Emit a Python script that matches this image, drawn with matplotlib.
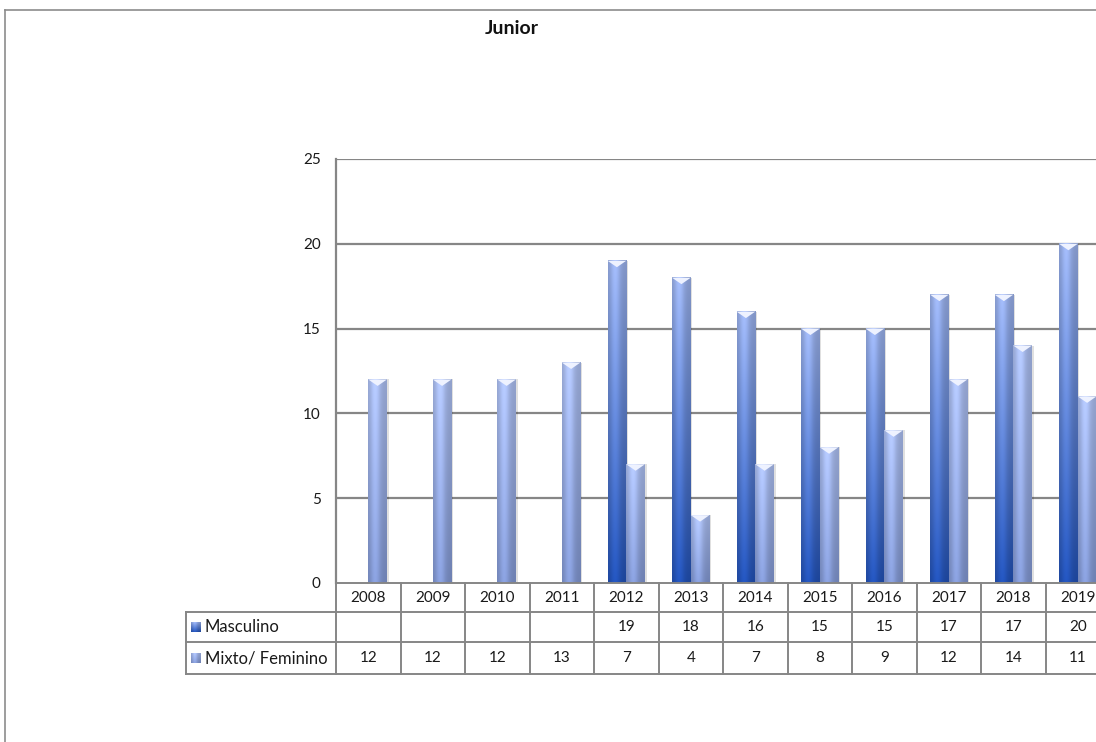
import matplotlib
matplotlib.use("Agg")
import matplotlib.pyplot as plt
import numpy as np
from matplotlib.patches import Polygon, Rectangle
from matplotlib.lines import Line2D

years = ["2008", "2009", "2010", "2011", "2012", "2013", "2014", "2015", "2016", "2017", "2018", "2019"]
masculino = [None, None, None, None, 19, 18, 16, 15, 15, 17, 17, 20]
mixto = [12, 12, 12, 13, 7, 4, 7, 8, 9, 12, 14, 11]
series_names = ["Masculino", "Mixto/ Feminino"]
title = "Junior"
yticks = [0, 5, 10, 15, 20, 25]

plt.rcParams['font.family'] = ['Lato', 'DejaVu Sans']

W, H = 1096, 742
fig = plt.figure(figsize=(W / 100, H / 100), dpi=100)

def fx(px):
    return px / W

def fy(py):
    return 1 - py / H

ax_left, ax_right, ax_top, ax_bot = 336, 1110, 159, 583
ax = fig.add_axes([fx(ax_left), fy(ax_bot), fx(ax_right - ax_left), fy(ax_top) - fy(ax_bot)])
ax.set_xlim(-0.5, len(years) - 0.5)
ax.set_ylim(0, 25)

grid_c = "#868686"
for t in yticks[1:]:
    ax.axhline(t, color=grid_c, lw=1.6, zorder=1)
for s in ["top", "right", "bottom"]:
    ax.spines[s].set_visible(False)
ax.spines["left"].set_color(grid_c)
ax.spines["left"].set_linewidth(1.6)
ax.set_xticks([])
ax.set_yticks(yticks)
ax.tick_params(axis="y", length=0, pad=11, labelsize=11, labelcolor="#1a1a1a")


def make_grad(bottom, top, n=64, m=24):
    b = np.array(matplotlib.colors.to_rgb(bottom))
    t = np.array(matplotlib.colors.to_rgb(top))
    v = np.linspace(0, 1, n)[:, None, None]
    img = b + (t - b) * v
    u = np.linspace(0, 1, m)
    shade = 0.80 + 0.22 * np.exp(-((u - 0.38) / 0.28) ** 2)
    img = img * shade[None, :, None]
    return np.clip(img, 0, 1)

grad_m = make_grad("#2456c0", "#a3bbf8")
grad_f = make_grad("#8aa1df", "#b6caff")

bw = 0.29
off = 0.145
tri_h = 0.38

def draw_bar(xc, h, grad):
    x0, x1 = xc - bw / 2, xc + bw / 2
    ax.add_patch(Rectangle((x1, 0), 0.025, h, color="#000000", alpha=0.12, lw=0, zorder=2))
    ax.imshow(grad, extent=[x0, x1, 0, h], origin="lower", aspect="auto",
              interpolation="bilinear", zorder=3)
    ax.add_patch(Polygon([[x0, h], [x1, h], [xc, h - tri_h]], closed=True,
                         color="#eef2ff", lw=0, zorder=4))

for i, (m, f) in enumerate(zip(masculino, mixto)):
    if m is not None:
        draw_bar(i - off, m, grad_m)
    if f is not None:
        draw_bar(i + off, f, grad_f)

ax.set_xlim(-0.5, len(years) - 0.5)
ax.set_ylim(0, 25)

tbl_c = "#868686"
rows_y = [583, 612, 642, 674]
col_w = (ax_right - ax_left) / len(years)
label_left = 186

def fline(x0, y0, x1, y1):
    fig.add_artist(Line2D([fx(x0), fx(x1)], [fy(y0), fy(y1)], color=tbl_c, lw=1.4))

fline(ax_left, rows_y[0], ax_right, rows_y[0])
for yy in rows_y[1:]:
    fline(label_left, yy, ax_right, yy)
fline(label_left, rows_y[1], label_left, rows_y[3])
for j in range(len(years) + 1):
    x = ax_left + j * col_w
    fline(x, rows_y[0], x, rows_y[3])

fs_num = 11
fs_lab = 12
tc = "#1a1a1a"
for j, yr in enumerate(years):
    xc = ax_left + (j + 0.5) * col_w
    fig.text(fx(xc), fy((rows_y[0] + rows_y[1]) / 2), yr, ha="center", va="center", fontsize=fs_num, color=tc)
    if masculino[j] is not None:
        fig.text(fx(xc), fy((rows_y[1] + rows_y[2]) / 2), str(masculino[j]), ha="center", va="center", fontsize=fs_num, color=tc)
    if mixto[j] is not None:
        fig.text(fx(xc), fy((rows_y[2] + rows_y[3]) / 2), str(mixto[j]), ha="center", va="center", fontsize=fs_num, color=tc)

for r, (name, grad) in enumerate(zip(series_names, [grad_m, grad_f])):
    yc = (rows_y[r + 1] + rows_y[r + 2]) / 2
    kax = fig.add_axes([fx(191), fy(yc + 5), fx(10), fy(yc - 5) - fy(yc + 5)])
    kax.imshow(grad, origin="lower", aspect="auto", interpolation="bilinear")
    kax.axis("off")
    fig.text(fx(205), fy(yc), name, ha="left", va="center", fontsize=fs_lab, color=tc)

fig.text(fx(512), fy(28), title, ha="center", va="center", fontsize=14, fontweight="bold", color="#111111")

fig.add_artist(Line2D([fx(5), fx(5)], [fy(10), fy(760)], color="#8c8c8c", lw=1.2))
fig.add_artist(Line2D([fx(5), fx(1200)], [fy(10), fy(10)], color="#8c8c8c", lw=1.2))

fig.savefig("out.png", dpi=100)
